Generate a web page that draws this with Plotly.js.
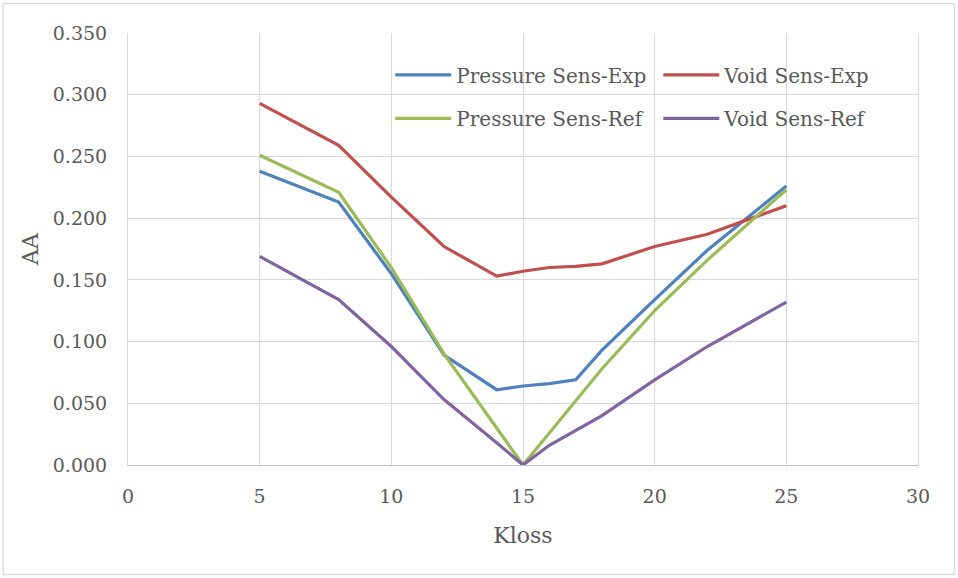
<!DOCTYPE html>
<html>
<head>
<meta charset="utf-8">
<script src="https://cdn.plot.ly/plotly-3.0.1.min.js"></script>
<style>html,body{margin:0;padding:0;background:#fff;}#chart{width:958px;height:578px;}</style>
</head>
<body>
<div id="chart"></div>
<script>
const kloss = [5, 8, 10, 12, 14, 15, 16, 17, 18, 20, 22, 25];
const pressureExp = [0.238, 0.213, 0.155, 0.089, 0.061, 0.064, 0.066, 0.069, 0.093, 0.134, 0.174, 0.226];
const voidExp = [0.293, 0.259, 0.217, 0.177, 0.153, 0.157, 0.160, 0.161, 0.163, 0.177, 0.187, 0.210];
const pressureRef = [0.251, 0.221, 0.160, 0.090, 0.030, 0.000, 0.026, 0.052, 0.078, 0.125, 0.166, 0.223];
const voidRef = [0.169, 0.134, 0.096, 0.053, 0.018, 0.000, 0.016, 0.028, 0.040, 0.069, 0.096, 0.132];
const seriesNames = ["Pressure Sens-Exp", "Void Sens-Exp", "Pressure Sens-Ref", "Void Sens-Ref"];
const yTicks = [0, 0.05, 0.1, 0.15, 0.2, 0.25, 0.3, 0.35];
const xTicks = [0, 5, 10, 15, 20, 25, 30];

const colors = ["#4F81BD", "#C0504D", "#9BBB59", "#8064A2"];
const legends = ["legend", "legend", "legend2", "legend2"];
const data = [pressureExp, voidExp, pressureRef, voidRef].map((ys, i) => ({
  type: "scatter", mode: "lines", x: kloss, y: ys, name: seriesNames[i],
  line: {color: colors[i], width: 3.2}, legend: legends[i]
}));

const font = "DejaVu Serif, Liberation Serif, serif";
const legBase = {
  orientation: "h", xanchor: "left", yanchor: "middle", bgcolor: "rgba(0,0,0,0)",
  font: {family: font, size: 20, color: "#595959"}, entrywidth: 197, entrywidthmode: "pixels",
  itemwidth: 56, traceorder: "normal"
};
const layout = {
  width: 958, height: 578,
  margin: {l: 128, r: 40, t: 33, b: 113, autoexpand: false},
  paper_bgcolor: "#ffffff", plot_bgcolor: "#ffffff",
  font: {family: font, color: "#595959"},
  showlegend: true,
  legend: Object.assign({}, legBase, {x: 0.332, y: 0.903}),
  legend2: Object.assign({}, legBase, {x: 0.332, y: 0.8025}),
  xaxis: {
    range: [0, 30], tickvals: xTicks, ticktext: xTicks.map(String),
    showgrid: true, gridcolor: "#d9d9d9", gridwidth: 1, zeroline: false,
    showline: true, linecolor: "#bfbfbf", linewidth: 1.3,
    ticks: "", ticklabelstandoff: 14,
    tickfont: {family: font, size: 19, color: "#595959"},
    title: {text: "Kloss", font: {family: font, size: 22, color: "#595959"}, standoff: 21}
  },
  yaxis: {
    range: [0, 0.35], tickvals: yTicks, ticktext: yTicks.map(v => v.toFixed(3)),
    showgrid: true, gridcolor: "#d9d9d9", gridwidth: 1, zeroline: false,
    showline: true, mirror: true, linecolor: "#d9d9d9", linewidth: 1,
    ticks: "", ticklabelstandoff: 16,
    tickfont: {family: font, size: 19, color: "#595959"},
    title: {text: "AA", font: {family: font, size: 22, color: "#595959"}, standoff: 8}
  },
  shapes: [{
    type: "rect", xref: "paper", yref: "paper",
    x0: -0.158, x1: 1.046, y0: -0.2535, y1: 1.068,
    line: {color: "#d9d9d9", width: 1.3}, fillcolor: "rgba(0,0,0,0)", layer: "below"
  }]
};
Plotly.newPlot("chart", data, layout, {displayModeBar: false, staticPlot: true});
</script>
</body>
</html>
